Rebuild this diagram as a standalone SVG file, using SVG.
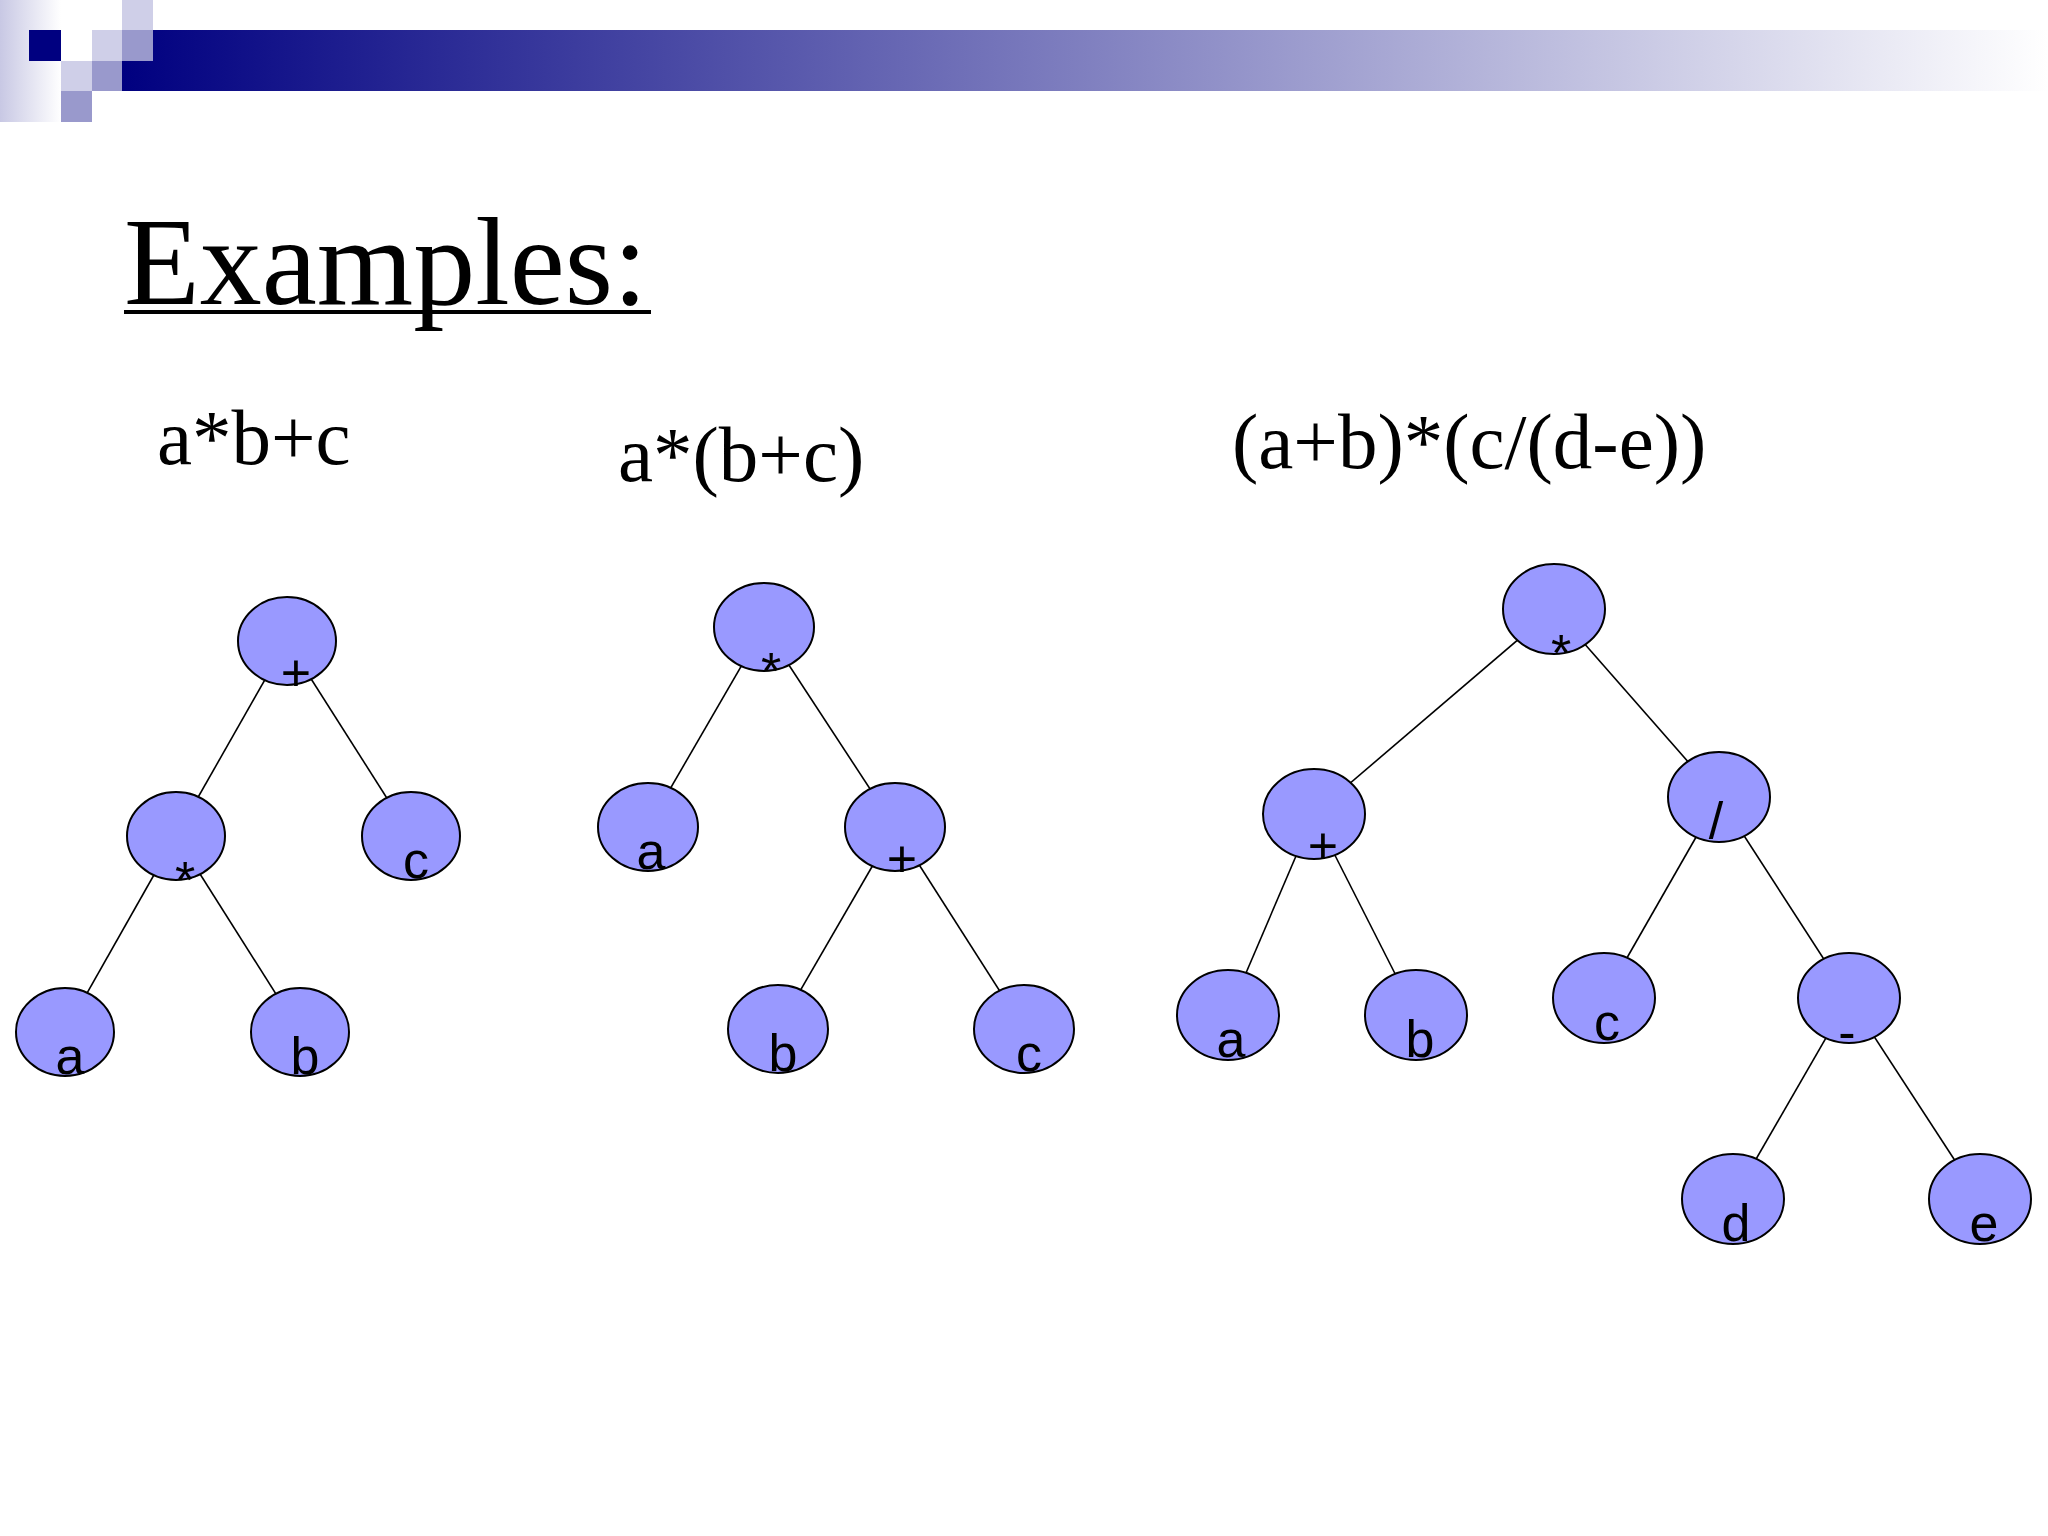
<svg xmlns="http://www.w3.org/2000/svg" width="2048" height="1536" viewBox="0 0 2048 1536">
<defs>
<linearGradient id="bar" x1="0" x2="1" y1="0" y2="0"><stop offset="0" stop-color="#000080"/><stop offset="1" stop-color="#ffffff"/></linearGradient>
<linearGradient id="side" x1="0" x2="1" y1="0" y2="0"><stop offset="0" stop-color="#c8c8e4"/><stop offset="1" stop-color="#ffffff"/></linearGradient>
</defs>
<style>
.n ellipse{fill:#9999ff;stroke:#000;stroke-width:2}
.n text{font-family:"Liberation Sans",Arial,sans-serif;font-size:52px;text-anchor:middle;fill:#000}
.e line{stroke:#000;stroke-width:1.6}
.t{font-family:"Liberation Serif","Times New Roman",serif;fill:#000}
</style>
<rect width="2048" height="1536" fill="#fff"/>
<g id="decor">
<rect x="0" y="0" width="61" height="122" fill="url(#side)"/>
<rect x="122" y="30" width="1926" height="61" fill="url(#bar)"/>
<rect x="29" y="30" width="32" height="31" fill="#000080"/>
<rect x="122" y="0" width="31" height="30" fill="#cfcfe8"/>
<rect x="92" y="30" width="30" height="31" fill="#cfcfe8"/>
<rect x="122" y="30" width="31" height="31" fill="#9999cc"/>
<rect x="61" y="61" width="31" height="30" fill="#cfcfe8"/>
<rect x="92" y="61" width="30" height="30" fill="#9999cc"/>
<rect x="61" y="91" width="31" height="31" fill="#9999cc"/>
</g>
<g id="title"><text class="t" x="124" y="304" font-size="124">Examples:</text><rect x="124" y="310" width="527" height="4" fill="#000"/></g>
<text class="t" x="157" y="464" font-size="79">a*b+c</text>
<text class="t" x="618" y="481" font-size="79">a*(b+c)</text>
<text class="t" x="1232" y="468" font-size="79">(a+b)*(c/(d-e))</text>
<g id="edges" class="e">
<line x1="287" y1="641" x2="176" y2="836"/><line x1="287" y1="641" x2="411" y2="836"/>
<line x1="176" y1="836" x2="65" y2="1032"/><line x1="176" y1="836" x2="300" y2="1032"/>
<line x1="764" y1="627" x2="648" y2="827"/><line x1="764" y1="627" x2="895" y2="827"/>
<line x1="895" y1="827" x2="778" y2="1029"/><line x1="895" y1="827" x2="1024" y2="1029"/>
<line x1="1554" y1="609" x2="1314" y2="814"/><line x1="1554" y1="609" x2="1719" y2="797"/>
<line x1="1314" y1="814" x2="1228" y2="1015"/><line x1="1314" y1="814" x2="1416" y2="1015"/>
<line x1="1719" y1="797" x2="1604" y2="998"/><line x1="1719" y1="797" x2="1849" y2="998"/>
<line x1="1849" y1="998" x2="1733" y2="1199"/><line x1="1849" y1="998" x2="1980" y2="1199"/>
</g>
<g id="t1-plus" class="n"><ellipse cx="287" cy="641" rx="49" ry="44"/><text x="296" y="691">+</text></g>
<g id="t1-mul" class="n"><ellipse cx="176" cy="836" rx="49" ry="44"/><text x="185" y="898">*</text></g>
<g id="t1-c" class="n"><ellipse cx="411" cy="836" rx="49" ry="44"/><text x="416" y="878">c</text></g>
<g id="t1-a" class="n"><ellipse cx="65" cy="1032" rx="49" ry="44"/><text x="70" y="1074">a</text></g>
<g id="t1-b" class="n"><ellipse cx="300" cy="1032" rx="49" ry="44"/><text x="305" y="1074">b</text></g>
<g id="t2-mul" class="n"><ellipse cx="764" cy="627" rx="50" ry="44"/><text x="771" y="689">*</text></g>
<g id="t2-a" class="n"><ellipse cx="648" cy="827" rx="50" ry="44"/><text x="651" y="869">a</text></g>
<g id="t2-plus" class="n"><ellipse cx="895" cy="827" rx="50" ry="44"/><text x="902" y="877">+</text></g>
<g id="t2-b" class="n"><ellipse cx="778" cy="1029" rx="50" ry="44"/><text x="783" y="1071">b</text></g>
<g id="t2-c" class="n"><ellipse cx="1024" cy="1029" rx="50" ry="44"/><text x="1029" y="1071">c</text></g>
<g id="t3-mul" class="n"><ellipse cx="1554" cy="609" rx="51" ry="45"/><text x="1561" y="671">*</text></g>
<g id="t3-plus" class="n"><ellipse cx="1314" cy="814" rx="51" ry="45"/><text x="1323" y="864">+</text></g>
<g id="t3-div" class="n"><ellipse cx="1719" cy="797" rx="51" ry="45"/><text x="1716" y="839">/</text></g>
<g id="t3-a" class="n"><ellipse cx="1228" cy="1015" rx="51" ry="45"/><text x="1231" y="1057">a</text></g>
<g id="t3-b" class="n"><ellipse cx="1416" cy="1015" rx="51" ry="45"/><text x="1420" y="1057">b</text></g>
<g id="t3-c" class="n"><ellipse cx="1604" cy="998" rx="51" ry="45"/><text x="1607" y="1040">c</text></g>
<g id="t3-minus" class="n"><ellipse cx="1849" cy="998" rx="51" ry="45"/><text x="1847" y="1050">-</text></g>
<g id="t3-d" class="n"><ellipse cx="1733" cy="1199" rx="51" ry="45"/><text x="1736" y="1241">d</text></g>
<g id="t3-e" class="n"><ellipse cx="1980" cy="1199" rx="51" ry="45"/><text x="1984" y="1241">e</text></g>
</svg>
